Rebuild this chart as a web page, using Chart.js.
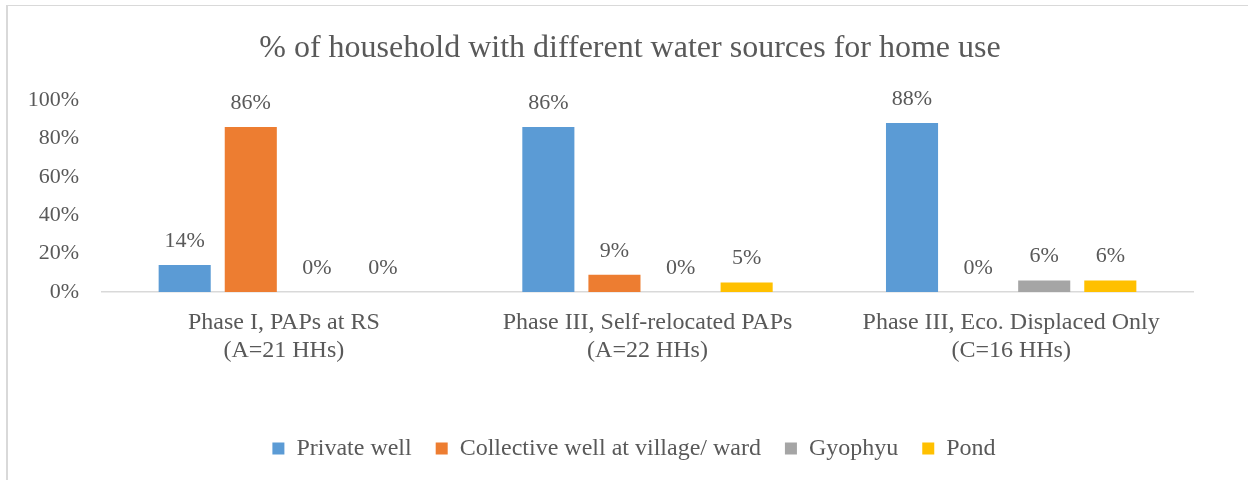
<!DOCTYPE html>
<html>
<head>
<meta charset="utf-8">
<script src="https://cdn.jsdelivr.net/npm/chart.js@4"></script>
<style>
  html, body { margin: 0; padding: 0; background: #fff; }
  #wrap { width: 1248px; height: 480px; position: relative; }
</style>
</head>
<body>
<div id="wrap"><canvas id="waterChart"></canvas></div>
<script>
// --- DATA ---
const categories = [
    ['Phase I, PAPs at RS', '(A=21 HHs)'],
    ['Phase III, Self-relocated PAPs', '(A=22 HHs)'],
    ['Phase III, Eco. Displaced Only', '(C=16 HHs)']
];
const seriesNames = ['Private well', 'Collective well at village/ ward', 'Gyophyu', 'Pond'];
const privateWell = [14, 86, 88];
const collectiveWell = [86, 9, 0];
const gyophyu = [0, 0, 6];
const pond = [0, 5, 6];
const yTicks = [0, 20, 40, 60, 80, 100];

const textColor = '#595959';
const serif = "'Liberation Serif', 'Times New Roman', serif";

// frame lines (top + left only, like the source)
const framePlugin = {
    id: 'frame',
    beforeDraw(chart) {
        const ctx = chart.ctx;
        ctx.save();
        ctx.fillStyle = '#d9d9d9';
        ctx.fillRect(6, 5, chart.width - 6, 1);
        ctx.fillRect(6, 5, 2, chart.height - 5);
        ctx.restore();
    }
};

// title and legend are centred on the whole frame, not on the plot
const centreBlocks = {
    id: 'centreBlocks',
    afterLayout(chart) {
        if (chart.titleBlock) { chart.titleBlock.left += 23.5; chart.titleBlock.right += 23.5; }
        if (chart.legend) { chart.legend.left += 27.5; chart.legend.right += 27.5; }
    }
};

// value labels above each bar
const valueLabels = {
    id: 'valueLabels',
    afterDatasetsDraw(chart) {
        const ctx = chart.ctx;
        ctx.save();
        ctx.font = '22px ' + serif;
        ctx.fillStyle = textColor;
        ctx.textAlign = 'center';
        ctx.textBaseline = 'middle';
        chart.data.datasets.forEach((ds, i) => {
            const meta = chart.getDatasetMeta(i);
            meta.data.forEach((bar, j) => {
                ctx.fillText(ds.data[j] + '%', bar.x, bar.y - 24);
            });
        });
        ctx.restore();
    }
};

Chart.defaults.font.family = serif;
Chart.defaults.color = textColor;

new Chart(document.getElementById('waterChart'), {
    type: 'bar',
    data: {
        labels: categories,
        datasets: [
            { label: seriesNames[0], data: privateWell, backgroundColor: '#5b9bd5' },
            { label: seriesNames[1], data: collectiveWell, backgroundColor: '#ed7d31' },
            { label: seriesNames[2], data: gyophyu, backgroundColor: '#a5a5a5' },
            { label: seriesNames[3], data: pond, backgroundColor: '#ffc000' }
        ]
    },
    options: {
        responsive: true,
        maintainAspectRatio: false,
        animation: false,
        categoryPercentage: 0.727,
        barPercentage: 0.788,
        layout: { padding: { left: 20, right: 55, top: 0, bottom: 9.5 } },
        plugins: {
            title: {
                display: true,
                text: '% of household with different water sources for home use',
                font: { size: 32, weight: 'normal' },
                color: textColor,
                padding: { top: 29, bottom: 32.6 }
            },
            legend: {
                position: 'bottom',
                labels: {
                    boxWidth: 12,
                    boxHeight: 12,
                    padding: 24,
                    color: textColor,
                    font: { size: 24 }
                }
            },
            tooltip: { enabled: false }
        },
        scales: {
            x: {
                grid: { display: false, drawTicks: false },
                border: { display: true, color: '#d9d9d9', width: 1.5 },
                ticks: { color: textColor, font: { size: 24 }, padding: 16, maxRotation: 0 },
                afterFit(scale) { scale.height = 120.5; }
            },
            y: {
                min: 0,
                max: 100,
                grid: { display: false, drawTicks: false },
                border: { display: false },
                afterBuildTicks(scale) { scale.ticks = yTicks.map(v => ({ value: v })); },
                ticks: {
                    color: textColor,
                    font: { size: 22 },
                    padding: 23,
                    callback: function (value) { return value + '%'; }
                },
                afterFit(scale) { scale.width = 82; }
            }
        }
    },
    plugins: [framePlugin, centreBlocks, valueLabels]
});
</script>
</body>
</html>
